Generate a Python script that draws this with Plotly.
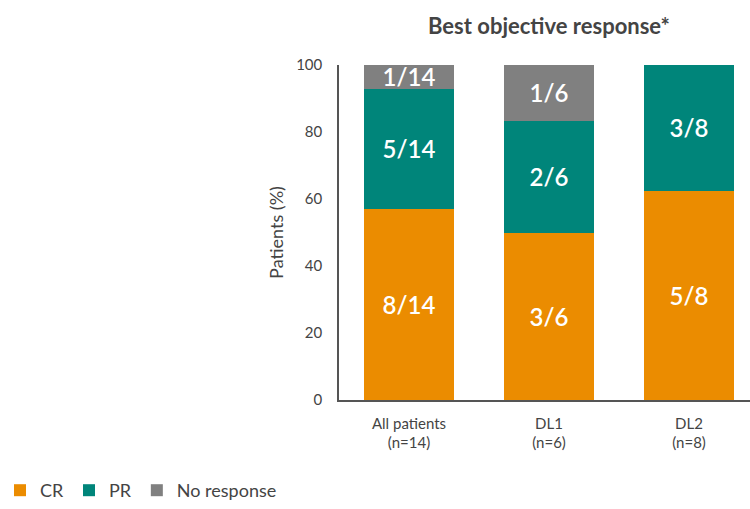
import plotly.graph_objects as go

categories = ["All patients<br>(n=14)", "DL1<br>(n=6)", "DL2<br>(n=8)"]
n_total = [14, 6, 8]
cr_counts = [8, 3, 5]
pr_counts = [5, 2, 3]
nr_counts = [1, 1, 0]
series_names = ["CR", "PR", "No response"]
colors = ["#EB8C00", "#00857A", "#808080"]

FONT = "Lato"
L, R, T, B = 339, 0, 65, 109
PW, PH = 750 - L - R, 509 - T - B

fig = go.Figure()
for name, counts, col in zip(series_names, [cr_counts, pr_counts, nr_counts], colors):
    pct = [c / n * 100 for c, n in zip(counts, n_total)]
    txt = [f"{c}/{n}" if c > 0 else "" for c, n in zip(counts, n_total)]
    fig.add_trace(go.Bar(
        x=categories, y=pct, name=name, marker_color=col,
        marker_line_width=0, width=0.636,
        text=txt, textposition="inside", insidetextanchor="middle",
        textfont=dict(family=FONT, size=24, color="white", weight=600),
        cliponaxis=False,
    ))

fig.update_layout(
    barmode="stack",
    width=750, height=509,
    margin=dict(l=L, r=R, t=T, b=B),
    plot_bgcolor="white", paper_bgcolor="white",
    font=dict(family=FONT, color="#444444"),
    uniformtext=dict(minsize=24, mode="show"),
    showlegend=True,
    legend=dict(orientation="h", xref="container", x=-0.004, xanchor="left",
                yref="container", y=-0.02, yanchor="bottom",
                font=dict(size=18, color="#444444"), traceorder="normal",
                itemwidth=30),
    annotations=[dict(text="<b>Best objective response*</b>",
                      x=(549 - L) / PW, xref="paper", y=(400 - 25) / PH, yref="paper",
                      xanchor="center", yanchor="middle", showarrow=False,
                      font=dict(size=22, color="#444444", family=FONT))],
)

fig.update_xaxes(range=[-0.5, -0.5 + PW / 140], showline=True, linecolor="#555555",
                 linewidth=1.5, ticks="", ticklabelstandoff=9,
                 tickfont=dict(size=15, color="#444444"),
                 showgrid=False, fixedrange=True)
fig.update_yaxes(range=[0, 100], tickvals=[0, 20, 40, 60, 80, 100], showline=True,
                 linecolor="#555555", linewidth=1.5, ticks="", ticklabelstandoff=12,
                 tickfont=dict(size=15, color="#444444"), showgrid=False, zeroline=False,
                 title=dict(text="Patients (%)", font=dict(size=18, color="#444444"), standoff=8))

fig.write_html("out.html", config={"displayModeBar": False},
               post_script="document.body.style.margin='0';document.body.style.overflow='hidden';")
